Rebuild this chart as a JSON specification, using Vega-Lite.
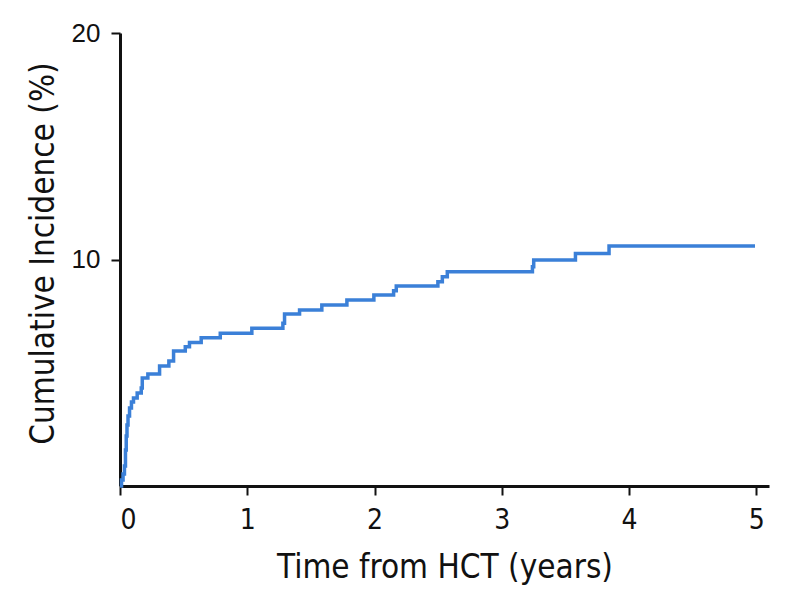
{
  "$schema": "https://vega.github.io/schema/vega-lite/v6.json",
  "autosize": "none",
  "width": 649,
  "height": 453,
  "padding": {"left": 120, "top": 33, "right": 22, "bottom": 123},
  "background": "white",
  "config": {"view": {"stroke": null}},
  "data": {
    "values": [
      {"t": 0, "ci": 0},
      {"t": 0.012, "ci": 0.26},
      {"t": 0.024, "ci": 0.53},
      {"t": 0.035, "ci": 0.88},
      {"t": 0.043, "ci": 1.59},
      {"t": 0.049, "ci": 2.21},
      {"t": 0.055, "ci": 2.69},
      {"t": 0.063, "ci": 3.09},
      {"t": 0.075, "ci": 3.44},
      {"t": 0.09, "ci": 3.71},
      {"t": 0.106, "ci": 3.89},
      {"t": 0.135, "ci": 4.11},
      {"t": 0.167, "ci": 4.33},
      {"t": 0.175, "ci": 4.77},
      {"t": 0.219, "ci": 4.94},
      {"t": 0.311, "ci": 5.3},
      {"t": 0.384, "ci": 5.52},
      {"t": 0.421, "ci": 5.96},
      {"t": 0.513, "ci": 6.15},
      {"t": 0.546, "ci": 6.34},
      {"t": 0.638, "ci": 6.55},
      {"t": 0.788, "ci": 6.74},
      {"t": 1.036, "ci": 6.96},
      {"t": 1.28, "ci": 7.18},
      {"t": 1.293, "ci": 7.59},
      {"t": 1.411, "ci": 7.77},
      {"t": 1.586, "ci": 7.99},
      {"t": 1.783, "ci": 8.21},
      {"t": 1.995, "ci": 8.43},
      {"t": 2.15, "ci": 8.62},
      {"t": 2.171, "ci": 8.83},
      {"t": 2.498, "ci": 9.02},
      {"t": 2.533, "ci": 9.24},
      {"t": 2.572, "ci": 9.46},
      {"t": 3.241, "ci": 9.68},
      {"t": 3.251, "ci": 9.98},
      {"t": 3.579, "ci": 10.27},
      {"t": 3.843, "ci": 10.6},
      {"t": 4.99, "ci": 10.6}
    ]
  },
  "mark": {"type": "line", "interpolate": "step-after", "color": "#3b80d8", "strokeWidth": 3.5, "clip": false},
  "encoding": {
    "x": {
      "field": "t",
      "type": "quantitative",
      "scale": {"domain": [0, 5.1], "nice": false, "zero": true},
      "axis": {
        "values": [0, 1, 2, 3, 4, 5],
        "grid": false,
        "domainColor": "#111111",
        "domainWidth": 3,
        "tickColor": "#111111",
        "tickWidth": 2,
        "tickSize": 9,
        "labelFont": "DejaVu Sans Condensed",
        "labelFontSize": 28,
        "labelColor": "#111111",
        "labelPadding": 11,
        "title": "Time from HCT (years)",
        "titleFont": "DejaVu Sans Condensed",
        "titleFontSize": 33,
        "titleFontWeight": "normal",
        "titleColor": "#111111",
        "titleBaseline": "alphabetic",
        "titleY": 91
      }
    },
    "y": {
      "field": "ci",
      "type": "quantitative",
      "scale": {"domain": [0, 20], "nice": false},
      "axis": {
        "values": [10, 20],
        "grid": false,
        "domainColor": "#111111",
        "domainWidth": 3,
        "tickColor": "#111111",
        "tickWidth": 2,
        "tickSize": 9,
        "labelFont": "Liberation Sans",
        "labelFontSize": 26,
        "labelColor": "#111111",
        "labelPadding": 11,
        "title": "Cumulative Incidence (%)",
        "titleFont": "DejaVu Sans Condensed",
        "titleFontSize": 33,
        "titleFontWeight": "normal",
        "titleColor": "#111111",
        "titleAngle": 270,
        "titleBaseline": "alphabetic",
        "titleAlign": "center",
        "titleX": -67,
        "titleY": 220
      }
    }
  }
}
